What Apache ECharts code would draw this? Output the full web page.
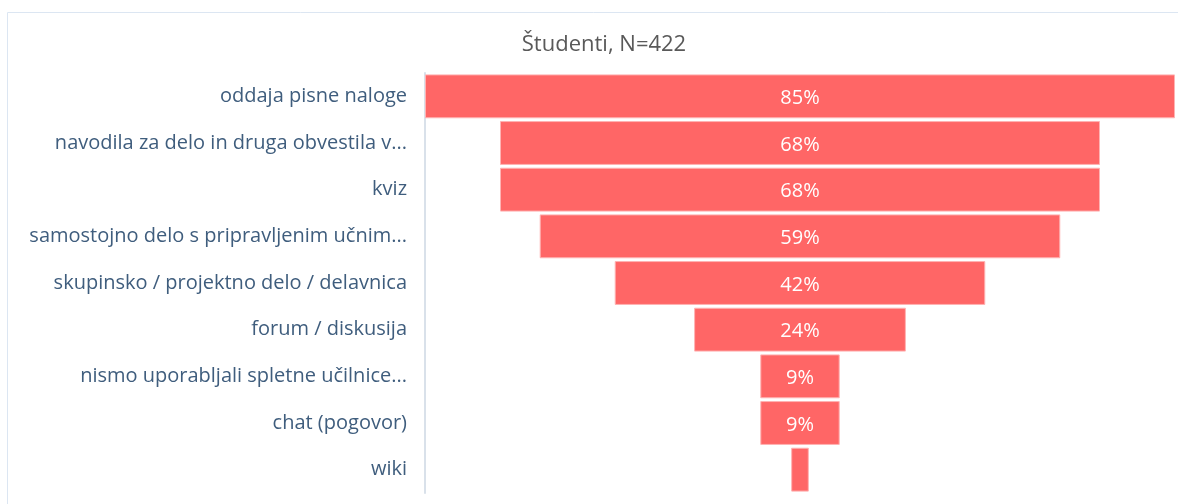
<!DOCTYPE html>
<html>
<head>
<meta charset="utf-8">
<script src="https://cdn.jsdelivr.net/npm/echarts@6/dist/echarts.min.js"></script>
<style>
  html, body { margin: 0; padding: 0; background: #fff; }
  #chart { width: 1178px; height: 504px; }
</style>
</head>
<body>
<div id="chart"></div>
<script>
const categories = [
  'oddaja pisne naloge',
  'navodila za delo in druga obvestila v...',
  'kviz',
  'samostojno delo s pripravljenim učnim...',
  'skupinsko / projektno delo / delavnica',
  'forum / diskusija',
  'nismo uporabljali spletne učilnice...',
  'chat (pogovor)',
  'wiki'
];
const values = [85, 68, 68, 59, 42, 24, 9, 9, 2];
const title = 'Študenti, N=422';

const maxVal = Math.max(...values);
// invisible offset so each bar sits centred in the plot
const offsets = values.map(v => (maxVal - v) / 2);

const chart = echarts.init(document.getElementById('chart'));
chart.setOption({
  backgroundColor: '#fff',
  animation: false,
  title: {
    text: title,
    left: 599,
    top: 29,
    textAlign: 'center',
    textStyle: {
      fontFamily: 'Open Sans',
      fontSize: 22,
      fontWeight: 'normal',
      color: '#595959'
    }
  },
  graphic: [{
    type: 'rect',
    shape: {x: 7.5, y: 12.5, width: 1300, height: 600},
    style: {fill: 'none', stroke: '#dce6f2', lineWidth: 1},
    silent: true
  }],
  grid: {
    left: 425,
    right: 3,
    top: 73,
    bottom: 11
  },
  xAxis: {
    type: 'value',
    min: 0,
    max: maxVal,
    show: false
  },
  yAxis: {
    type: 'category',
    inverse: true,
    data: categories,
    axisLine: {show: true, lineStyle: {color: '#d9e1ea', width: 2}},
    axisTick: {show: false},
    axisLabel: {
      margin: 18,
      padding: [4, 0, 0, 0],
      fontFamily: 'Open Sans',
      fontSize: 20,
      color: '#3f5d7d'
    }
  },
  series: [
    {
      name: 'offset',
      type: 'bar',
      stack: 'f',
      data: offsets,
      itemStyle: {color: 'transparent'},
      barCategoryGap: '6%',
      silent: true
    },
    {
      name: 'Študenti',
      type: 'bar',
      stack: 'f',
      data: values,
      barCategoryGap: '6%',
      itemStyle: {color: '#ff6666', borderColor: '#ffb3b3', borderWidth: 1},
      label: {
        show: true,
        position: 'inside',
        offset: [0, 2],
        fontFamily: 'Open Sans',
        fontSize: 20,
        color: '#fff',
        formatter: p => p.value >= 5 ? p.value + '%' : ''
      }
    }
  ]
});
</script>
</body>
</html>
